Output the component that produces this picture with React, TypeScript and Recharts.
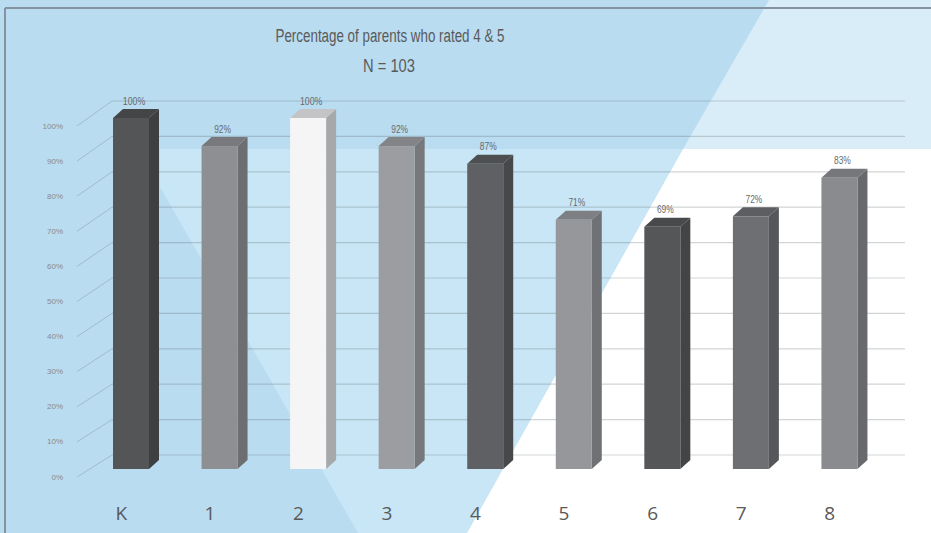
import React from 'react';
import { BarChart, Bar, XAxis, YAxis, CartesianGrid, LabelList } from 'recharts';

const grades = ['K', '1', '2', '3', '4', '5', '6', '7', '8'];
const percents = [100, 92, 100, 92, 87, 71, 69, 72, 83];
const frontColors = ['#545557', '#8e8f92', '#f5f5f5', '#9c9da0', '#5f6063', '#96979a', '#555658', '#6e6f73', '#8a8b8f'];
const sideColors = ['#3e3f41', '#6d6e71', '#a7a8aa', '#77787b', '#47484a', '#707174', '#434446', '#56575a', '#68696c'];
const topColors = ['#444547', '#78797c', '#c4c4c6', '#838487', '#4e4f51', '#7e7f82', '#48494b', '#5d5e61', '#76777a'];
const yTicks = [0, 10, 20, 30, 40, 50, 60, 70, 80, 90, 100];
const titleText = 'Percentage of parents who rated 4 & 5';
const subtitleText = 'N = 103';

const data = grades.map((g, i) => ({ grade: g, value: percents[i], idx: i }));

const W = 931;
const H = 533;
const FLOOR = 469;
const DX = 10;
const DY = 9;
const SHIFT = 10;
const FACE = 36;
const FONT = "'Liberation Sans', sans-serif";

const wallY = (y: number) => y - 14 - (FLOOR - y) * 0.0086;
const gridStroke = 'rgba(95,100,105,0.28)';

const Bar3D = (props: any) => {
  const { x, y, width, height, index } = props;
  if (height == null || isNaN(height)) return null;
  const x0 = x + SHIFT + (width - FACE) / 2;
  const x1 = x0 + FACE;
  const yt = y;
  const yb = y + height;
  return (
    <g>
      <polygon points={`${x1},${yt} ${x1 + DX},${yt - DY} ${x1 + DX},${yb - DY} ${x1},${yb}`} fill={sideColors[index]} />
      <polygon points={`${x0},${yt} ${x0 + DX},${yt - DY} ${x1 + DX},${yt - DY} ${x1},${yt}`} fill={topColors[index]} />
      <rect x={x0} y={yt} width={FACE} height={height} fill={frontColors[index]} />
    </g>
  );
};

const ValueLabel = (props: any) => {
  const { x, y, width, value } = props;
  const cx = x + SHIFT + width / 2 + 3;
  const txt = `${value}%`;
  return (
    <text x={cx} y={y - 17} textAnchor="middle" dominantBaseline="central" fontSize={10}
      fontFamily={FONT} fill="#6a6a6a" textLength={txt.length * 5.6} lengthAdjust="spacingAndGlyphs">
      {txt}
    </text>
  );
};

const YTick = (props: any) => {
  const { y, payload } = props;
  const wy = wallY(y);
  return (
    <g>
      <text x={63} y={y + 8} textAnchor="end" dominantBaseline="central" fontSize={8}
        fontFamily={FONT} fill="#8a8a8a">
        {payload.value}%
      </text>
      <line x1={77} y1={y + 8} x2={112} y2={wy} stroke={gridStroke} strokeWidth={1} />
    </g>
  );
};

const XTick = (props: any) => {
  const { x, payload } = props;
  return (
    <text x={x} y={513} textAnchor="middle" dominantBaseline="central" fontSize={19}
      fontFamily="'Open Sans', sans-serif" fill="#595959">
      {payload.value}
    </text>
  );
};

const gridLine = (p: any) => {
  const wy = wallY(p.y1);
  return <line key={p.key} x1={112} y1={wy} x2={905} y2={wy} stroke={gridStroke} strokeWidth={1.2} />;
};

const Background = () => (
  <svg width={W} height={H} style={{ position: 'absolute', left: 0, top: 0 }}>
    <rect x={0} y={0} width={W} height={H} fill="#b9dcf1" />
    <polygon points="769,0 931,0 931,149 683,149" fill="#d9edf8" />
    <polygon points="160,149 683,149 467,533 358,533 160,187" fill="#c8e6f6" />
    <polygon points="683,149 931,149 931,533 467,533" fill="#ffffff" />
    <line x1={5} y1={8} x2={931} y2={8} stroke="#8593a0" strokeWidth={2} />
    <line x1={5} y1={8} x2={5} y2={533} stroke="#8593a0" strokeWidth={2} />
  </svg>
);

export default function App() {
  return (
    <div style={{ position: 'absolute', left: 0, top: 0, width: W, height: H }}>
      <Background />
      <div style={{ position: 'absolute', left: 0, top: 0 }}>
        <BarChart width={W} height={H} data={data} margin={{ top: 118, right: 57, bottom: 24, left: 17 }} barCategoryGap={0}>
          <CartesianGrid vertical={false} horizontal={gridLine} />
          <XAxis dataKey="grade" axisLine={false} tickLine={false} height={40} tick={<XTick />} interval={0} />
          <YAxis domain={[0, 100]} ticks={yTicks} axisLine={false} tickLine={false} width={60} tick={<YTick />} interval={0} />
          <Bar dataKey="value" barSize={36} shape={<Bar3D />} isAnimationActive={false}>
            <LabelList dataKey="value" content={<ValueLabel />} />
          </Bar>
        </BarChart>
      </div>
      <svg width={W} height={90} style={{ position: 'absolute', left: 0, top: 0, pointerEvents: 'none' }}>
        <text x={390} y={36} textAnchor="middle" dominantBaseline="central" fontSize={18}
          fontFamily={FONT} fill="#5a5a5a" textLength={229} lengthAdjust="spacingAndGlyphs">{titleText}</text>
        <text x={389} y={66} textAnchor="middle" dominantBaseline="central" fontSize={18}
          fontFamily={FONT} fill="#5a5a5a" textLength={52} lengthAdjust="spacingAndGlyphs">{subtitleText}</text>
      </svg>
    </div>
  );
}
